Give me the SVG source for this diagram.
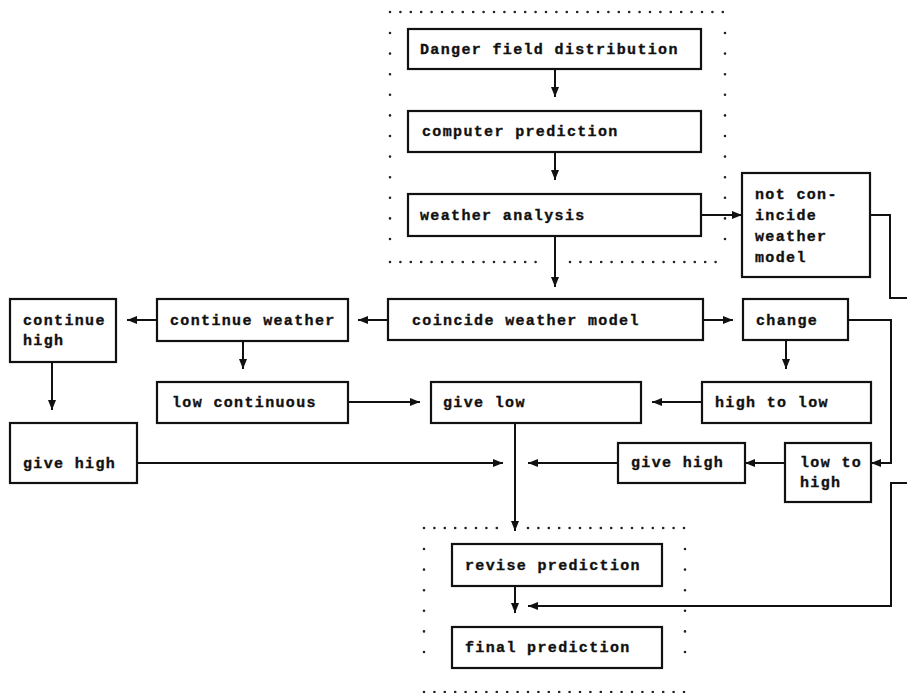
<svg xmlns="http://www.w3.org/2000/svg" width="907" height="693" viewBox="0 0 907 693">
<defs>
<marker id="ah" viewBox="0 0 10 8" refX="10" refY="4" markerWidth="10" markerHeight="8" markerUnits="userSpaceOnUse" orient="auto">
<path d="M0,0 L10,4 L0,8 Z" fill="#111"/>
</marker>
<style>
.box{fill:#fff;stroke:#111;stroke-width:2.2}
.t{font-family:"Liberation Mono","DejaVu Sans Mono",monospace;font-weight:bold;font-size:15px;letter-spacing:1.35px;fill:#111;stroke:#111;stroke-width:0.35}
.c{fill:none;stroke:#111;stroke-width:2}
.dh{fill:none;stroke:#222;stroke-width:2.6;stroke-linecap:round;stroke-dasharray:0 10.4}
.dv{fill:none;stroke:#222;stroke-width:2.6;stroke-linecap:round;stroke-dasharray:0 20.6}
</style>
</defs>
<rect width="907" height="693" fill="#fff"/>

<g id="frames">
<line class="dh" x1="390" y1="12" x2="725" y2="12"/>
<line class="dv" x1="390" y1="33" x2="390" y2="242"/>
<line class="dv" x1="725" y1="33" x2="725" y2="242"/>
<line class="dh" x1="390" y1="262" x2="540" y2="262"/>
<line class="dh" x1="570" y1="262" x2="725" y2="262"/>
<line class="dh" x1="424" y1="528" x2="500" y2="528"/>
<line class="dh" x1="528" y1="528" x2="685" y2="528"/>
<line class="dv" x1="424" y1="549" x2="424" y2="672"/>
<line class="dv" x1="685" y1="549" x2="685" y2="672"/>
<line class="dh" x1="424" y1="692" x2="685" y2="692"/>
</g>

<g id="connectors">
<path class="c" d="M555,69 V97" marker-end="url(#ah)"/>
<path class="c" d="M555,152 V180" marker-end="url(#ah)"/>
<path class="c" d="M555,236 V287" marker-end="url(#ah)"/>
<path class="c" d="M700,215 H742" marker-end="url(#ah)"/>
<path class="c" d="M870,215 H890 V298 H907"/>
<path class="c" d="M703,320 H733" marker-end="url(#ah)"/>
<path class="c" d="M388,320 H358" marker-end="url(#ah)"/>
<path class="c" d="M157,320 H127" marker-end="url(#ah)"/>
<path class="c" d="M243,341 V369" marker-end="url(#ah)"/>
<path class="c" d="M52,362 V410" marker-end="url(#ah)"/>
<path class="c" d="M348,402 H420" marker-end="url(#ah)"/>
<path class="c" d="M786,340 V369" marker-end="url(#ah)"/>
<path class="c" d="M702,402 H652" marker-end="url(#ah)"/>
<path class="c" d="M848,320 H891 V463 H871" marker-end="url(#ah)"/>
<path class="c" d="M785,463 H745" marker-end="url(#ah)"/>
<path class="c" d="M618,463 H528" marker-end="url(#ah)"/>
<path class="c" d="M137,463 H503" marker-end="url(#ah)"/>
<path class="c" d="M515,423 V531" marker-end="url(#ah)"/>
<path class="c" d="M515,586 V613" marker-end="url(#ah)"/>
<path class="c" d="M907,483 H891 V606 H528" marker-end="url(#ah)"/>
</g>

<g id="danger">
<rect class="box" x="408" y="29" width="293" height="40"/>
<text class="t" x="420" y="54">Danger field distribution</text>
</g>
<g id="computer">
<rect class="box" x="408" y="111" width="293" height="41"/>
<text class="t" x="422" y="136">computer prediction</text>
</g>
<g id="weather">
<rect class="box" x="408" y="194" width="293" height="42"/>
<text class="t" x="420" y="220">weather analysis</text>
</g>
<g id="notcoincide">
<rect class="box" x="742" y="173" width="128" height="104"/>
<text class="t" x="755" y="199">not con-</text>
<text class="t" x="755" y="220">incide</text>
<text class="t" x="755" y="241">weather</text>
<text class="t" x="755" y="262">model</text>
</g>
<g id="coincide">
<rect class="box" x="388" y="299" width="315" height="41"/>
<text class="t" x="412" y="325">coincide weather model</text>
</g>
<g id="change">
<rect class="box" x="743" y="299" width="105" height="41"/>
<text class="t" x="756" y="325">change</text>
</g>
<g id="contweather">
<rect class="box" x="157" y="299" width="191" height="42"/>
<text class="t" x="170" y="325">continue weather</text>
</g>
<g id="conthigh">
<rect class="box" x="10" y="299" width="106" height="63"/>
<text class="t" x="23" y="325">continue</text>
<text class="t" x="23" y="345">high</text>
</g>
<g id="lowcont">
<rect class="box" x="157" y="382" width="191" height="41"/>
<text class="t" x="172" y="407">low continuous</text>
</g>
<g id="givelow">
<rect class="box" x="431" y="382" width="210" height="41"/>
<text class="t" x="443" y="407">give low</text>
</g>
<g id="hightolow">
<rect class="box" x="702" y="382" width="169" height="41"/>
<text class="t" x="715" y="407">high to low</text>
</g>
<g id="givehighleft">
<rect class="box" x="10" y="423" width="127" height="60"/>
<text class="t" x="23" y="468">give high</text>
</g>
<g id="givehighright">
<rect class="box" x="618" y="443" width="127" height="40"/>
<text class="t" x="631" y="467">give high</text>
</g>
<g id="lowtohigh">
<rect class="box" x="785" y="443" width="86" height="59"/>
<text class="t" x="800" y="467">low to</text>
<text class="t" x="800" y="487">high</text>
</g>
<g id="revise">
<rect class="box" x="452" y="544" width="210" height="42"/>
<text class="t" x="465" y="570">revise prediction</text>
</g>
<g id="final">
<rect class="box" x="452" y="627" width="210" height="41"/>
<text class="t" x="465" y="652">final prediction</text>
</g>
</svg>
